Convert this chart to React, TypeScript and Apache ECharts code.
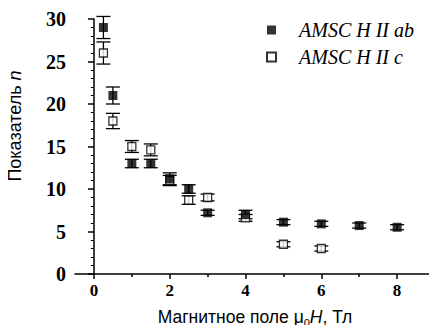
import React, { useEffect, useRef } from "react";
import * as echarts from "echarts";

const xAb = [0.25, 0.5, 1, 1.5, 2, 2.5, 3, 4, 5, 6, 7, 8];
const nAb = [29.0, 21.0, 13.0, 13.0, 11.2, 10.0, 7.2, 7.0, 6.1, 5.9, 5.7, 5.5];
const errAb = [1.3, 1.0, 0.5, 0.5, 0.7, 0.5, 0.3, 0.5, 0.3, 0.3, 0.3, 0.3];
const xC = [0.25, 0.5, 1, 1.5, 2, 2.5, 3, 4, 5, 6];
const nC = [26.0, 18.0, 15.0, 14.6, 11.0, 8.7, 9.0, 6.6, 3.5, 3.0];
const errC = [1.3, 0.9, 0.7, 0.7, 0.6, 0.5, 0.4, 0.4, 0.3, 0.3];
const xMajor = [0, 2, 4, 6, 8];
const xMinor = [1, 3, 5, 7];
const seriesNames = ["AMSC H II ab", "AMSC H II c"];

function errSeries(xs: number[], ys: number[], es: number[]) {
  return {
    type: "custom",
    silent: true,
    z: 1,
    data: xs.map((x, i) => [x, ys[i] - es[i], ys[i] + es[i]]),
    renderItem: (params: any, api: any) => {
      const lo = api.coord([api.value(0), api.value(1)]);
      const hi = api.coord([api.value(0), api.value(2)]);
      const w = 7;
      const st = { stroke: "#000", lineWidth: 1.3 };
      return {
        type: "group",
        children: [
          { type: "line", shape: { x1: lo[0], y1: lo[1], x2: hi[0], y2: hi[1] }, style: st },
          { type: "line", shape: { x1: lo[0] - w, y1: lo[1], x2: lo[0] + w, y2: lo[1] }, style: st },
          { type: "line", shape: { x1: hi[0] - w, y1: hi[1], x2: hi[0] + w, y2: hi[1] }, style: st },
        ],
      };
    },
  };
}

export default function App() {
  const ref = useRef<HTMLDivElement>(null);
  useEffect(() => {
    const chart = echarts.init(ref.current!, null, { renderer: "svg" });
    chart.setOption({
      animation: false,
      grid: { left: 75, right: 2, top: 19, bottom: 56 },
      legend: {
        orient: "vertical",
        left: 261,
        top: 15,
        itemWidth: 9,
        itemHeight: 9,
        itemGap: 7,
        icon: "rect",
        data: seriesNames,
        textStyle: {
          fontFamily: "Liberation Serif",
          fontStyle: "italic",
          fontSize: 20,
          color: "#000",
          padding: [0, 0, 0, 18],
        },
      },
      xAxis: [
        {
          type: "value",
          min: -0.5,
          max: 9,
          axisLine: { lineStyle: { color: "#000", width: 1.5 } },
          axisTick: { show: true, customValues: xMajor, length: 5, lineStyle: { color: "#000", width: 1.5 } },
          axisLabel: {
            customValues: xMajor,
            fontFamily: "Liberation Serif",
            fontWeight: "bold",
            fontSize: 17,
            color: "#000",
            margin: 8,
          },
          splitLine: { show: false },
          name: "{a|Магнитное поле μ}{s|0}{i|H}{a|, Тл}",
          nameLocation: "middle",
          nameGap: 31,
          nameTextStyle: {
            rich: {
              a: { fontFamily: "Liberation Sans", fontSize: 17.5, color: "#000" },
              s: { fontFamily: "Liberation Sans", fontSize: 11, color: "#000", verticalAlign: "bottom", padding: [12, 0, 0, 0] },
              i: { fontFamily: "Liberation Sans", fontStyle: "italic", fontSize: 17.5, color: "#000" },
            },
          },
        },
        {
          type: "value",
          min: -0.5,
          max: 9,
          position: "bottom",
          axisLine: { show: false },
          axisTick: { show: true, customValues: xMinor, length: 3, lineStyle: { color: "#000", width: 1.5 } },
          axisLabel: { show: false },
          splitLine: { show: false },
        },
      ],
      yAxis: {
        type: "value",
        min: 0,
        max: 30,
        interval: 5,
        axisLine: { show: true, lineStyle: { color: "#000", width: 1.5 } },
        axisTick: { show: true, length: 6, lineStyle: { color: "#000", width: 1.5 } },
        minorTick: { show: true, splitNumber: 5, length: 3, lineStyle: { color: "#000", width: 1 } },
        axisLabel: {
          fontFamily: "Liberation Serif",
          fontWeight: "bold",
          fontSize: 20,
          color: "#000",
          margin: 9,
        },
        splitLine: { show: false },
      },
      graphic: [
        {
          type: "text",
          x: 6,
          y: 126,
          rotation: Math.PI / 2,
          style: {
            text: "{a|Показатель }{i|n}",
            align: "center",
            verticalAlign: "top",
            rich: {
              a: { fontFamily: "Liberation Sans", fontSize: 18, fill: "#000" },
              i: { fontFamily: "Liberation Sans", fontStyle: "italic", fontSize: 18, fill: "#000" },
            },
          },
        },
      ],
      series: [
        errSeries(xC, nC, errC),
        errSeries(xAb, nAb, errAb),
        {
          name: seriesNames[1],
          type: "scatter",
          z: 3,
          symbol: "rect",
          symbolSize: 8,
          itemStyle: { color: "#fff", borderColor: "#000", borderWidth: 1.3 },
          data: xC.map((x, i) => [x, nC[i]]),
        },
        {
          name: seriesNames[0],
          type: "scatter",
          z: 4,
          symbol: "rect",
          symbolSize: 9,
          itemStyle: { color: "#000" },
          data: xAb.map((x, i) => [x, nAb[i]]),
        },
      ],
    });
    return () => chart.dispose();
  }, []);
  return <div ref={ref} style={{ width: 437, height: 333, margin: -8 }} />;
}
